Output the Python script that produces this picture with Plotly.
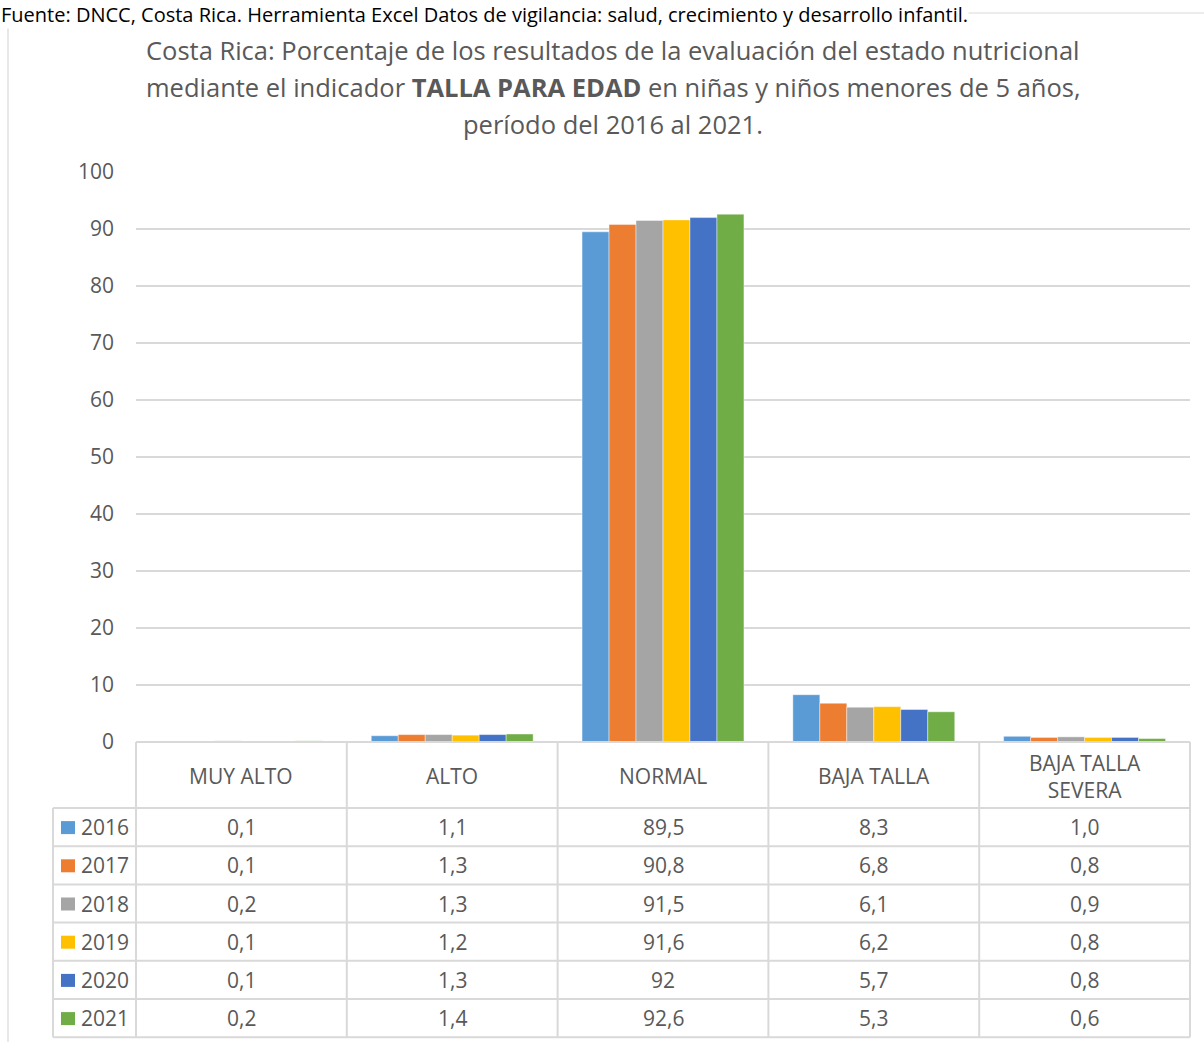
import plotly.graph_objects as go

categories = ["MUY ALTO", "ALTO", "NORMAL", "BAJA TALLA", "BAJA TALLA<br>SEVERA"]
years = ["2016", "2017", "2018", "2019", "2020", "2021"]
v2016 = [0.1, 1.1, 89.5, 8.3, 1.0]
v2017 = [0.1, 1.3, 90.8, 6.8, 0.8]
v2018 = [0.2, 1.3, 91.5, 6.1, 0.9]
v2019 = [0.1, 1.2, 91.6, 6.2, 0.8]
v2020 = [0.1, 1.3, 92.0, 5.7, 0.8]
v2021 = [0.2, 1.4, 92.6, 5.3, 0.6]
labels2016 = ["0,1", "1,1", "89,5", "8,3", "1,0"]
labels2017 = ["0,1", "1,3", "90,8", "6,8", "0,8"]
labels2018 = ["0,2", "1,3", "91,5", "6,1", "0,9"]
labels2019 = ["0,1", "1,2", "91,6", "6,2", "0,8"]
labels2020 = ["0,1", "1,3", "92", "5,7", "0,8"]
labels2021 = ["0,2", "1,4", "92,6", "5,3", "0,6"]
colors = ["#5B9BD5", "#ED7D31", "#A5A5A5", "#FFC000", "#4472C4", "#70AD47"]
title_lines = [
    "Costa Rica: Porcentaje de los resultados de la evaluación del estado nutricional",
    "mediante el indicador <b>TALLA PARA EDAD</b> en niñas y niños menores de 5 años,",
    "período del 2016 al 2021.",
]
source_text = "Fuente: DNCC, Costa Rica. Herramienta Excel Datos de vigilancia: salud, crecimiento y desarrollo infantil."

series = [v2016, v2017, v2018, v2019, v2020, v2021]
table_labels = [labels2016, labels2017, labels2018, labels2019, labels2020, labels2021]

W, H = 1204, 1042
def px(x): return x / W
def py(y): return 1 - y / H

X0, X1 = 136, 1190
Y0, Y100 = 742, 172
LEG_X = 53
HEADER_BOTTOM = 808
ROW_H = 38.2
GRID = "#D9D9D9"
TXT = "#595959"
FONT = "Open Sans, sans-serif"
FS = 21

fig = go.Figure()
for yr, vals, c in zip(years, series, colors):
    fig.add_trace(go.Bar(x=categories, y=vals, name=yr, marker_color=c,
                         marker_line=dict(color="rgba(255,255,255,0.7)", width=0.6)))

shapes = []
annotations = []

# outer chart border
shapes.append(dict(type="rect", xref="paper", yref="paper", x0=px(8), x1=px(1210), y0=py(1060), y1=py(13),
                   line=dict(color=GRID, width=1.2)))

# table lines
ncat = len(categories)
cw = (X1 - X0) / ncat
table_bottom = HEADER_BOTTOM + ROW_H * len(years)
for i in range(ncat + 1):
    x = X0 + i * cw
    shapes.append(dict(type="line", xref="paper", yref="paper", x0=px(x), x1=px(x), y0=py(Y0), y1=py(table_bottom),
                       line=dict(color=GRID, width=2)))
shapes.append(dict(type="line", xref="paper", yref="paper", x0=px(LEG_X), x1=px(LEG_X), y0=py(HEADER_BOTTOM),
                   y1=py(table_bottom), line=dict(color=GRID, width=2)))
for r in range(len(years) + 1):
    y = HEADER_BOTTOM + r * ROW_H
    shapes.append(dict(type="line", xref="paper", yref="paper", x0=px(LEG_X), x1=px(X1), y0=py(y), y1=py(y),
                       line=dict(color=GRID, width=2)))
shapes.append(dict(type="line", xref="paper", yref="paper", x0=px(X0), x1=px(X1), y0=py(Y0), y1=py(Y0),
                   line=dict(color=GRID, width=2)))

# header text
for i, cat in enumerate(categories):
    annotations.append(dict(xref="paper", yref="paper", x=px(X0 + (i + 0.5) * cw), y=py((Y0 + HEADER_BOTTOM) / 2 + 1),
                            text=cat, showarrow=False, font=dict(family=FONT, size=FS, color=TXT),
                            xanchor="center", yanchor="middle"))
# rows
for r, (yr, labs, c) in enumerate(zip(years, table_labels, colors)):
    yc = HEADER_BOTTOM + (r + 0.5) * ROW_H
    shapes.append(dict(type="rect", xref="paper", yref="paper", x0=px(61), x1=px(75), y0=py(yc + 7), y1=py(yc - 6),
                       fillcolor=c, line=dict(width=0)))
    annotations.append(dict(xref="paper", yref="paper", x=px(79), y=py(yc), text=yr, showarrow=False,
                            font=dict(family=FONT, size=FS, color=TXT), xanchor="left", yanchor="middle"))
    for i, lab in enumerate(labs):
        annotations.append(dict(xref="paper", yref="paper", x=px(X0 + (i + 0.5) * cw), y=py(yc), text=lab,
                                showarrow=False, font=dict(family=FONT, size=FS, color=TXT),
                                xanchor="center", yanchor="middle"))

# title (one annotation per line for Excel-like line spacing)
for k, line in enumerate(title_lines):
    annotations.append(dict(xref="paper", yref="paper", x=px(613), y=py(49.5 + 37 * k), text=line,
                            showarrow=False, font=dict(family=FONT, size=25.5, color=TXT),
                            xanchor="center", yanchor="middle"))
# source line at the very top
annotations.append(dict(xref="paper", yref="paper", x=px(0), y=py(0), text=source_text,
                        showarrow=False, font=dict(family=FONT, size=20, color="#000000"),
                        xanchor="left", yanchor="top", bgcolor="white", borderpad=0))

fig.update_layout(
    width=W, height=H, margin=dict(l=0, r=0, t=0, b=0, autoexpand=False),
    paper_bgcolor="white", plot_bgcolor="white",
    barmode="group", bargap=0.232, bargroupgap=0,
    showlegend=False,
    xaxis=dict(domain=[px(X0), px(X1)], showticklabels=False, showgrid=False, zeroline=False, showline=False,
               ticks="", automargin=False),
    yaxis=dict(domain=[py(Y0), py(Y100)], range=[0, 100], dtick=10, showgrid=True, gridcolor=GRID, gridwidth=2,
               zeroline=False, showline=False, ticks="", ticklen=0, automargin=False,
               tickfont=dict(family=FONT, size=FS, color=TXT), ticklabelstandoff=21),
    shapes=shapes, annotations=annotations,
)

fig.write_html(
    "out.html",
    config={"displayModeBar": False},
    post_script=("document.body.style.margin='0';document.body.style.overflow='hidden';"
                 "var g=document.getElementById('{plot_id}');g.style.position='fixed';"
                 "g.style.left='0px';g.style.top='0px';"),
)
